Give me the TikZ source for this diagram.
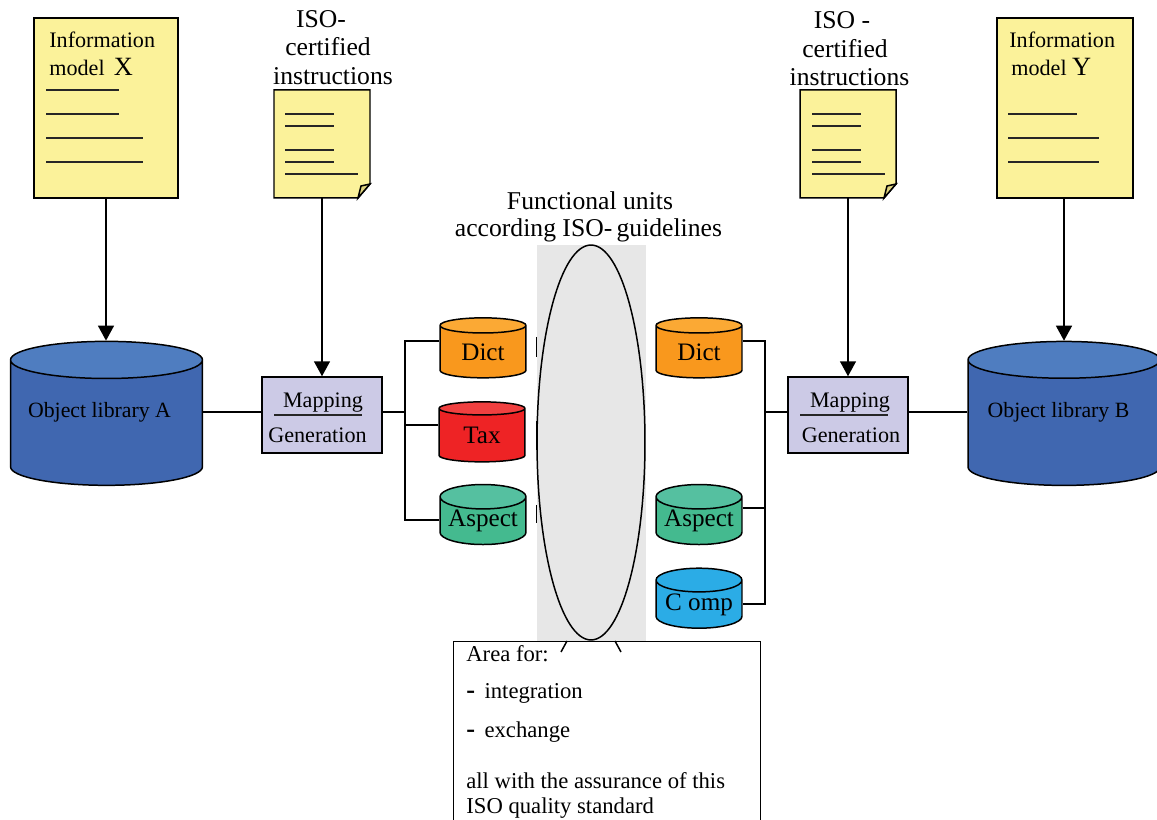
\documentclass[tikz,border=0pt]{standalone}
\usepackage{fontspec}
\setmainfont{Liberation Serif}
\usetikzlibrary{shapes.geometric,arrows.meta}
\definecolor{noteyellow}{HTML}{FBF29A}
\definecolor{foldyellow}{HTML}{DDD27E}
\definecolor{mapviolet}{HTML}{CCCAE6}
\definecolor{libblue}{HTML}{4067B0}
\definecolor{libtop}{HTML}{4F7DC0}
\definecolor{dictbody}{HTML}{F9981D}
\definecolor{dicttop}{HTML}{FBA934}
\definecolor{taxbody}{HTML}{EE2325}
\definecolor{taxtop}{HTML}{F04040}
\definecolor{aspbody}{HTML}{44BA8F}
\definecolor{asptop}{HTML}{55C0A0}
\definecolor{compbody}{HTML}{2BACE6}
\definecolor{unitgray}{HTML}{E7E7E7}
\begin{document}
\begin{tikzpicture}[x=0.02cm,y=0.02cm]
\tikzstyle{every node}+=[inner sep=0pt]
\tikzstyle{linepen}=[line width=0.85pt,black]
\tikzstyle{rulepen}=[line width=0.65pt,black!85]
\tikzstyle{arrowline}=[linepen,-{Triangle[length=0.3cm,width=0.32cm]}]
\tikzstyle{txt}=[anchor=base,font=\fontsize{12.6}{14}\selectfont]
\tikzstyle{txtleft}=[anchor=base west,font=\fontsize{12.6}{14}\selectfont]
\tikzstyle{areatxt}=[anchor=base west,font=\fontsize{12.9}{14}\selectfont]
\tikzstyle{bigtxt}=[anchor=base,font=\fontsize{14.6}{16}\selectfont]
\tikzstyle{docbox}=[draw,linepen,fill=noteyellow,rectangle,minimum width=2.88cm,minimum height=3.6cm]
\tikzstyle{notepage}=[minimum width=1.92cm,minimum height=2.16cm]
\tikzstyle{mapbox}=[draw,linepen,fill=mapviolet,rectangle,minimum width=2.4cm,minimum height=1.52cm]
\tikzstyle{can}=[draw,linepen,cylinder,shape border rotate=90,shape aspect=0.35,cylinder uses custom fill]
\tikzstyle{libcan}=[can,minimum width=3.84cm,minimum height=2.88cm,shape aspect=0.26,cylinder body fill=libblue,cylinder end fill=libtop,font=\fontsize{12.4}{14}\selectfont]
\tikzstyle{libtxt}=[anchor=base,font=\fontsize{12.4}{14}\selectfont]
\tikzstyle{unitcan}=[can,minimum width=1.72cm,minimum height=1.2cm,font=\fontsize{14.3}{16}\selectfont]
\tikzstyle{dictcan}=[unitcan,cylinder body fill=dictbody,cylinder end fill=dicttop]
\tikzstyle{taxcan}=[unitcan,cylinder body fill=taxbody,cylinder end fill=taxtop]
\tikzstyle{aspcan}=[unitcan,cylinder body fill=aspbody,cylinder end fill=asptop]
\tikzstyle{compcan}=[unitcan,cylinder body fill=compbody,cylinder end fill=compbody]
\clip (0,0) rectangle (1157,-820);
\fill [unitgray] (537,-245) rectangle (646,-641);
\node (units) [draw,linepen,fill=unitgray,ellipse,minimum width=2.16cm,minimum height=7.9cm] at (591,-442.5) {};
\node (unitsa) [bigtxt] at (590,-210) {Functional units};
\node (unitsb) [bigtxt] at (588.5,-237) {according\ ISO-\,guidelines};
\draw [linepen] (536.5,-337) -- (536.5,-357);
\draw [linepen] (536.5,-421) -- (536.5,-450);
\draw [linepen] (536.5,-505) -- (536.5,-523);
\node (docx) [docbox] at (106,-108) {};
\node (infox) [txtleft] at (49,-48) {Information};
\node (modelx) [txtleft] at (49,-76) {model\ \,{\fontsize{15}{16}\selectfont X}};
\draw [rulepen] (46,-90) -- (119,-90);
\draw [rulepen] (46,-114) -- (119,-114);
\draw [rulepen] (46,-138) -- (143,-138);
\draw [rulepen] (46,-162) -- (143,-162);
\node (notea) [notepage] at (322,-144) {};
\draw [linepen,fill=noteyellow] (274,-90) -- (370,-90) -- (370,-184) -- (358,-198) -- (274,-198) -- cycle;
\draw [linepen,fill=foldyellow] (370,-184) -- (358,-198) -- (361,-186) -- cycle;
\node (isoa) [bigtxt] at (321,-27.5) {ISO-};
\node (certa) [bigtxt] at (328,-56) {certified};
\node (insta) [bigtxt] at (333,-85) {instructions};
\draw [rulepen] (285,-114) -- (334,-114);
\draw [rulepen] (285,-126) -- (334,-126);
\draw [rulepen] (285,-150) -- (334,-150);
\draw [rulepen] (285,-162) -- (334,-162);
\draw [rulepen] (285,-174) -- (358,-174);
\node (noteb) [notepage] at (848,-144) {};
\draw [linepen,fill=noteyellow] (800,-90) -- (896,-90) -- (896,-184) -- (884,-198) -- (800,-198) -- cycle;
\draw [linepen,fill=foldyellow] (896,-184) -- (884,-198) -- (887,-186) -- cycle;
\node (isob) [bigtxt] at (842,-29) {ISO -};
\node (certb) [bigtxt] at (845,-57.5) {certified};
\node (instb) [bigtxt] at (849.5,-85.5) {instructions};
\draw [rulepen] (812,-114) -- (861,-114);
\draw [rulepen] (812,-126) -- (861,-126);
\draw [rulepen] (812,-150) -- (861,-150);
\draw [rulepen] (812,-162) -- (861,-162);
\draw [rulepen] (812,-174) -- (885,-174);
\node (docy) [docbox,minimum width=2.72cm] at (1065,-108) {};
\node (infoy) [txtleft] at (1009,-48) {Information};
\node (modely) [txtleft] at (1011,-76) {model {\fontsize{15}{16}\selectfont Y}};
\draw [rulepen] (1008,-114) -- (1077,-114);
\draw [rulepen] (1008,-138) -- (1099,-138);
\draw [rulepen] (1008,-162) -- (1099,-162);
\node (liba) [libcan] at (106.5,-423) {\phantom{Object library A}};
\node (libatxt) [libtxt] at (99.5,-418) {Object library A};
\node (libb) [libcan] at (1064,-423) {\phantom{Object library B}};
\node (libbtxt) [libtxt] at (1058.5,-418) {Object library B};
\node (mapa) [mapbox] at (322,-415) {};
\node (mapatop) [txt] at (323,-408) {Mapping};
\node (mapabot) [txt] at (317.5,-443) {Generation};
\draw [rulepen] (274,-415) -- (362,-415);
\node (mapb) [mapbox] at (848,-415) {};
\node (mapbtop) [txt] at (850,-408) {Mapping};
\node (mapbbot) [txt] at (851,-443) {Generation};
\draw [rulepen] (800,-415) -- (888,-415);
\node (dicta) [dictcan] at (483,-352) {Dict};
\node (taxa) [taxcan] at (482,-435.5) {Tax};
\node (aspa) [aspcan] at (483,-521) {Aspect};
\node (dictb) [dictcan] at (699,-352) {Dict};
\node (aspb) [aspcan] at (699,-521) {Aspect};
\node (compb) [compcan] at (699,-604.5) {C omp};
\node (area) [draw,linepen,fill=white,rectangle,minimum width=6.14cm,minimum height=4.4cm,anchor=north west] at (453,-641) {};
\node (areaa) [areatxt] at (466,-662) {Area for:};
\node (areab) [areatxt] at (466,-699) {{\fontsize{15}{16}\selectfont\bfseries -}\ \,integration};
\node (areac) [areatxt] at (466,-738) {{\fontsize{15}{16}\selectfont\bfseries -}\ \,exchange};
\node (aread) [areatxt] at (466,-788) {all with the assurance of this};
\node (areae) [areatxt] at (466,-813) {ISO\ quality standard};
\draw [linepen] (567,-641) -- (561,-652);
\draw [linepen] (615,-641) -- (621,-652);
\coordinate (leftx) at (405,-412);
\coordinate (rightx) at (765,-412);
\draw [arrowline] (docx.south) -- (docx.south |- liba.north);
\draw [arrowline] (notea.south) -- (mapa.north);
\draw [arrowline] (noteb.south) -- (mapb.north);
\draw [arrowline] (libb.north |- docy.south) -- (libb.north);
\draw [linepen] (liba.east |- leftx) -- (mapa.west |- leftx);
\draw [linepen] (mapa.east |- leftx) -- (leftx);
\draw [linepen] (rightx) -- (mapb.west |- rightx);
\draw [linepen] (mapb.east |- rightx) -- (libb.west |- rightx);
\draw [linepen] (dicta.west |- 0,-341) -| (leftx);
\draw [linepen] (taxa.west |- 0,-425) -| (leftx);
\draw [linepen] (aspa.west |- 0,-520) -| (leftx);
\draw [linepen] (dictb.east |- 0,-341) -| (rightx);
\draw [linepen] (aspb.east |- 0,-508) -| (rightx);
\draw [linepen] (compb.east |- 0,-604) -| (rightx);
\end{tikzpicture}
\end{document}
